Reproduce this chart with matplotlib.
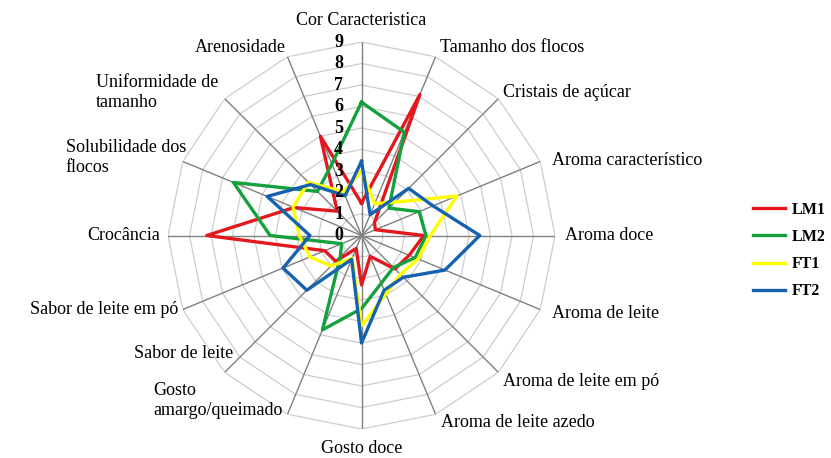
import numpy as np
from matplotlib import pyplot as plt

plt.rcParams['font.family'] = ['Liberation Serif', 'DejaVu Serif']

# categorias do gráfico (sentido horário a partir do topo)
categorias = ['Cor Caracteristica', 'Tamanho dos flocos', 'Cristais de açúcar',
              'Aroma característico', 'Aroma doce', 'Aroma de leite',
              'Aroma de leite em pó', 'Aroma de leite azedo', 'Gosto doce',
              'Gosto\namargo/queimado', 'Sabor de leite', 'Sabor de leite em pó',
              'Crocância', 'Solubilidade dos\nflocos', 'Uniformidade de\ntamanho',
              'Arenosidade']

lm1 = [1.5, 7.1, 0.85, 0.7, 2.9, 2.4, 2.2, 1.05, 2.3, 0.65, 1.7, 1.85, 7.2, 3.4, 1.6, 5.0]
lm2 = [6.2, 5.2, 1.8, 2.9, 3.0, 2.7, 2.1, 2.4, 3.4, 4.75, 1.4, 1.0, 4.25, 6.45, 2.9, 3.6]
ft1 = [3.0, 1.6, 2.2, 4.8, 3.2, 2.85, 2.55, 2.95, 4.2, 1.15, 2.0, 2.6, 2.9, 3.45, 3.5, 2.2]
ft2 = [3.45, 1.05, 3.1, 3.6, 5.5, 4.2, 2.75, 2.75, 5.0, 1.2, 3.6, 3.95, 2.4, 4.75, 3.35, 2.0]
series = ['LM1', 'LM2', 'FT1', 'FT2']
cores = ['#E3181E', '#14A03C', '#FFFF00', '#1562B0']
niveis = [0, 1, 2, 3, 4, 5, 6, 7, 8, 9]

n = len(categorias)
ang = np.linspace(0, 2 * np.pi, n, endpoint=False)
ang_f = np.append(ang, ang[0])

fig = plt.figure(figsize=(8.31, 4.58), dpi=100)
ax = fig.add_axes([0.2022, 0.0633, 0.4657, 0.845], projection='polar')
ax.set_theta_zero_location('N')
ax.set_theta_direction(-1)
ax.set_ylim(0, 9)
ax.grid(False)
ax.set_xticks([])
ax.set_yticks([])
ax.spines['polar'].set_visible(False)

# grade poligonal e eixos radiais
for r in niveis[1:]:
    ax.plot(ang_f, [r] * (n + 1), c='#CDCDCD', lw=0.9, zorder=1)
for a in ang:
    ax.plot([a, a], [0, 9], c='#808080', lw=1.0, zorder=2)

# séries
for nome, vals, c in zip(series, [lm1, lm2, ft1, ft2], cores):
    ax.plot(ang_f, vals + vals[:1], c=c, lw=2.4, label=nome, zorder=3)

# escala radial
for r in niveis:
    ax.annotate(str(r), xy=(0, r), xytext=(-23, 0), textcoords='offset pixels',
                ha='center', va='center', fontsize=13, fontweight='bold', zorder=4)

# rótulos das categorias
offs = [(0, 22, 'center'), (4, 9, 'left'), (5, 6, 'left'), (12, 1, 'left'),
        (10, 0, 'left'), (12, -4, 'left'), (5, -9, 'left'), (5, -8, 'left'),
        (0, -19, 'center'), (-5, 14, 'right'), (9, 19, 'right'), (-5, 0, 'right'),
        (-8, 0, 'right'), (3, 4, 'right'), (-6, 6, 'right'), (-2, 9, 'right')]
for a, txt, (dx, dy, ha) in zip(ang, categorias, offs):
    ax.annotate(txt, xy=(a, 9), xytext=(dx, dy), textcoords='offset pixels',
                ha=ha, va='center', multialignment='left', fontsize=13,
                annotation_clip=False)

# legenda
fig.legend(loc='center left', bbox_to_anchor=(0.889, 0.453), frameon=False,
           prop={'weight': 'bold', 'size': 11.5}, handlelength=2.0,
           handletextpad=0.4, labelspacing=0.7)

plt.savefig('out.png', dpi=100)
